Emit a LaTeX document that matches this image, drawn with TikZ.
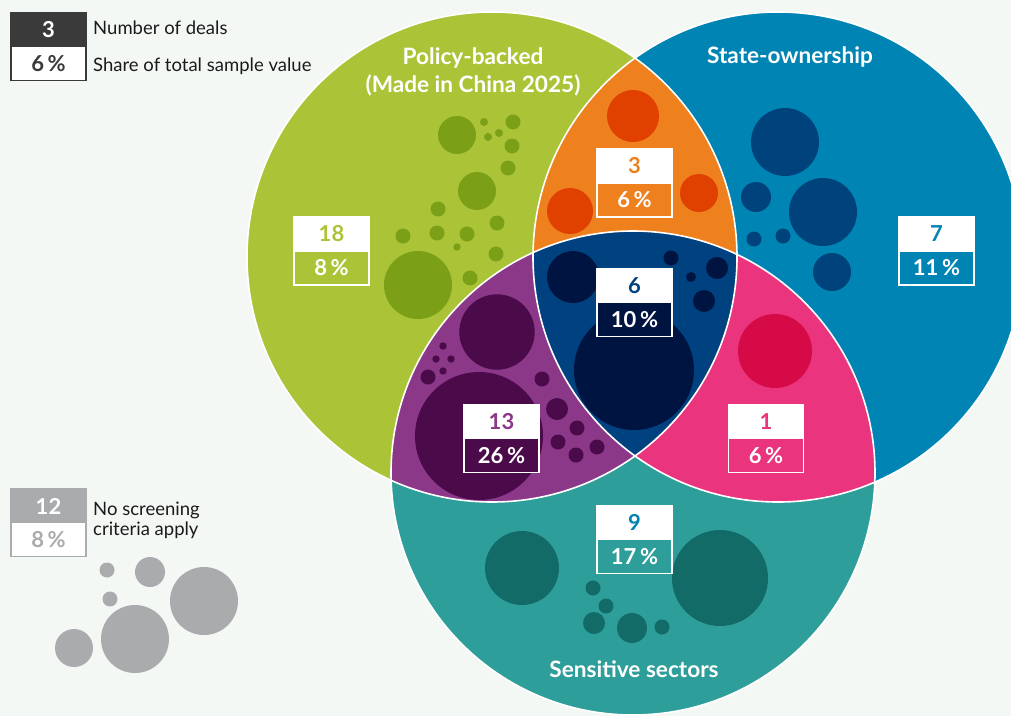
\documentclass[tikz,border=0pt]{standalone}
\usepackage{fontspec}
\setmainfont{Lato}
\definecolor{bg}{HTML}{F4F8F5}
\definecolor{cgreen}{HTML}{ABC437}
\definecolor{dgreen}{HTML}{7BA017}
\definecolor{cblue}{HTML}{0084B4}
\definecolor{dblue}{HTML}{00437C}
\definecolor{cteal}{HTML}{2E9E9A}
\definecolor{dteal}{HTML}{136B67}
\definecolor{corange}{HTML}{EE801D}
\definecolor{dorange}{HTML}{E04000}
\definecolor{cpurple}{HTML}{8B3889}
\definecolor{dpurple}{HTML}{4B0A4A}
\definecolor{cpink}{HTML}{EA347D}
\definecolor{dpink}{HTML}{D70A48}
\definecolor{cnavy}{HTML}{00427F}
\definecolor{dnavy}{HTML}{001442}
\definecolor{cgrey}{HTML}{A9ABAD}
\definecolor{cdark}{HTML}{3A3A3A}
\definecolor{ctext}{HTML}{1A1A1A}
\newcommand{\bub}[3]{\fill (#1,#2) circle[radius=#3pt];}
\begin{document}
\begin{tikzpicture}[x=1pt,y=-1pt,
  numfont/.style={font=\bfseries\fontsize{22}{26}\selectfont},
  halfbox/.style={numfont, minimum width=75pt, minimum height=34pt, inner sep=0pt, draw=white, line width=1.2pt},
  topbox/.style={halfbox, fill=white},
  botbox/.style={halfbox, text=white},
  title/.style={font=\bfseries\fontsize{22.6}{28}\selectfont, text=white, align=center},
  legend/.style={font=\fontsize{18.5}{20}\selectfont, text=ctext, anchor=west, align=left, inner sep=0pt}]
\useasboundingbox (0,0) rectangle (1011,716);
\clip (0,0) rectangle (1011,716);
\fill[bg] (0,0) rectangle (1011,716);
\coordinate (G) at (492,257);
\coordinate (B) at (778,257);
\coordinate (T) at (633,473);
% main circles
\fill[cgreen] (G) circle[radius=245pt];
\fill[cblue] (B) circle[radius=245pt];
\fill[cteal] (T) circle[radius=242pt];
% pairwise intersections
\begin{scope}
  \clip (G) circle[radius=245pt];
  \fill[corange] (B) circle[radius=245pt];
  \fill[cpurple] (T) circle[radius=242pt];
  \clip (B) circle[radius=245pt];
  \fill[cnavy] (T) circle[radius=242pt];
\end{scope}
\begin{scope}
  \clip (B) circle[radius=245pt];
  \begin{scope}
    \clip (T) circle[radius=242pt];
    \fill[cpink] (B) circle[radius=245pt];
    \clip (G) circle[radius=245pt];
    \fill[cnavy] (T) circle[radius=242pt];
  \end{scope}
\end{scope}
% bubbles: policy-backed
\begin{scope}[dgreen]
  \bub{457}{135}{19} \bub{484}{122}{4} \bub{513}{122}{7.5} \bub{488}{137}{4}
  \bub{499}{133}{4} \bub{512}{146}{7.5} \bub{508}{168}{7.5} \bub{477}{191}{19}
  \bub{438}{209}{7.5} \bub{497}{223}{7.5} \bub{403}{236}{7.5} \bub{437}{233}{7.5}
  \bub{467}{234}{7.5} \bub{457}{247}{3.7} \bub{496}{254}{7.5} \bub{418}{285}{34}
  \bub{470}{278}{7.5}
\end{scope}
% state-ownership
\begin{scope}[dblue]
  \bub{785}{142}{34} \bub{756}{197}{15} \bub{823}{212}{34}
  \bub{754}{239}{7.5} \bub{783}{236}{7.5} \bub{832}{272}{19}
\end{scope}
% orange
\begin{scope}[dorange]
  \bub{633}{116}{26} \bub{570}{211}{23} \bub{699}{193}{19}
\end{scope}
% purple
\begin{scope}[dpurple]
  \bub{497}{332}{37.7} \bub{443}{346}{3.7} \bub{436}{359}{3.7} \bub{451}{359}{3.7}
  \bub{443}{371}{3.7} \bub{428}{377}{7.5} \bub{542}{379}{7.5} \bub{479}{436}{64}
  \bub{557}{409}{11} \bub{577}{428}{7.5} \bub{558}{442}{7.5} \bub{597}{447}{7.5}
  \bub{576}{455}{7.5}
\end{scope}
% navy centre
\begin{scope}[dnavy]
  \bub{573}{277}{26} \bub{634}{370}{60} \bub{671}{258}{7.5}
  \bub{717}{268}{11} \bub{691}{277}{5} \bub{704}{301}{11}
\end{scope}
% pink
\begin{scope}[dpink]
  \bub{775}{351}{37}
\end{scope}
% teal
\begin{scope}[dteal]
  \bub{522}{568}{37} \bub{720}{578}{48} \bub{593}{588}{7.5} \bub{606}{606}{7.5}
  \bub{594}{623}{11} \bub{632}{628}{15} \bub{662}{627}{7.5}
\end{scope}
% grey legend bubbles
\begin{scope}[cgrey]
  \bub{107}{570}{7.5} \bub{150}{572}{15} \bub{204}{601}{34}
  \bub{110}{599}{7.5} \bub{135}{639}{34} \bub{74}{648}{19}
\end{scope}
% white outlines
\begin{scope}[draw=white, line width=1.6pt]
  \draw (G) circle[radius=245pt];
  \draw (B) circle[radius=245pt];
  \draw (T) circle[radius=242pt];
\end{scope}
% titles
\node[title] (tg) at (473,72) {Policy-backed\\(Made in China 2025)};
\node[title] (tb) at (790,57) {State-ownership};
\node[title] (tt) at (634,669) {Sensitive sectors};
% region labels
\node[topbox, text=cgreen] (g1) at (331.5,234) {18};
\node[botbox, fill=cgreen] (g2) at (331.5,268) {8\,\%};
\node[topbox, text=cblue] (b1) at (936.5,234) {7};
\node[botbox, fill=cblue] (b2) at (936.5,268) {11\,\%};
\node[topbox, text=corange] (o1) at (634.5,166) {3};
\node[botbox, fill=corange] (o2) at (634.5,200) {6\,\%};
\node[topbox, text=cnavy] (n1) at (634.5,285.5) {6};
\node[botbox, fill=dnavy] (n2) at (634.5,319.5) {10\,\%};
\node[topbox, text=cpurple] (p1) at (501.5,421.5) {13};
\node[botbox, fill=dpurple] (p2) at (501.5,455.5) {26\,\%};
\node[topbox, text=cpink] (k1) at (766,421.5) {1};
\node[botbox, fill=cpink] (k2) at (766,455.5) {6\,\%};
\node[topbox, text=cblue] (s1) at (634.5,522.5) {9};
\node[botbox, fill=cteal] (s2) at (634.5,556.5) {17\,\%};
% legend
\node[halfbox, draw=cdark, fill=cdark, text=white] (l1) at (48.5,30) {3};
\node[halfbox, draw=cdark, fill=white, text=cdark] (l2) at (48.5,63.5) {6\,\%};
\node[legend] (lt1) at (93,28) {Number of deals};
\node[legend] (lt2) at (93,66) {Share of total sample value};
\node[halfbox, draw=cgrey, fill=cgrey, text=white] (m1) at (48.5,506) {12};
\node[halfbox, draw=cgrey, fill=white, text=cgrey] (m2) at (48.5,539.5) {8\,\%};
\node[legend] (mt) at (93,520) {No screening\\criteria apply};
\end{tikzpicture}
\end{document}
